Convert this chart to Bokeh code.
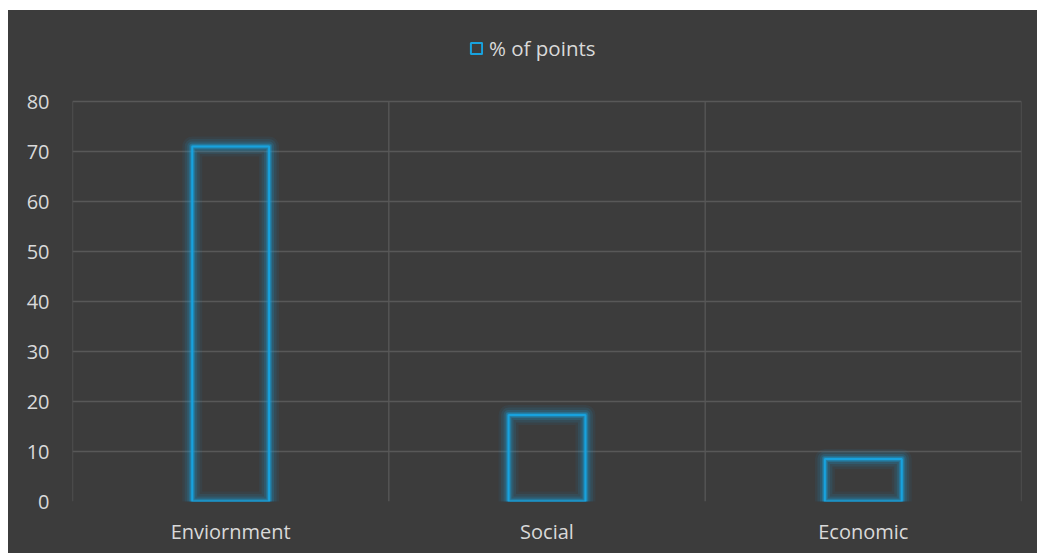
from bokeh.plotting import figure
from bokeh.models import FixedTicker, Legend, LegendItem, Range1d, ColumnDataSource
from bokeh.embed import file_html
from bokeh.resources import INLINE

categories = ["Enviornment", "Social", "Economic"]
values = [71, 17.3, 8.5]
y_ticks = [0, 10, 20, 30, 40, 50, 60, 70, 80]
series_name = "% of points"

BG = "#3c3c3c"
GRID = "#585858"
TEXT = "#d9d9d9"
BLUE = "#18a2de"
FONT = "Open Sans"

W, H = 1029, 543
FRAME_TOP, FRAME_BOTTOM = 91, 491          # pixel rows of 80 and 0
px_per_unit = (FRAME_BOTTOM - FRAME_TOP) / (y_ticks[-1] - y_ticks[0])
y_top = y_ticks[-1] + FRAME_TOP / px_per_unit   # extend range so legend sits inside frame

xs = [i + 0.5 for i in range(len(categories))]
src = ColumnDataSource(dict(x=xs, top=values))

p = figure(width=W, height=H, margin=(10, 0, 0, 8),
           output_backend="svg", toolbar_location=None,
           x_range=Range1d(0, len(categories)), y_range=Range1d(0, y_top),
           min_border_left=64, min_border_right=16, min_border_top=0,
           min_border_bottom=H - FRAME_BOTTOM)
p.styles = {"background-color": BG}
p.title.visible = False
p.background_fill_color = None
p.border_fill_color = BG
p.outline_line_color = None

# vertical category-boundary grid lines (0..80 only)
bounds = list(range(len(categories) + 1))
p.segment(x0=bounds, y0=[y_ticks[0]] * len(bounds), x1=bounds, y1=[y_ticks[-1]] * len(bounds),
          line_color=GRID, line_width=1.3)
p.xgrid.visible = False
p.ygrid.ticker = FixedTicker(ticks=y_ticks)
p.ygrid.grid_line_color = GRID
p.ygrid.grid_line_width = 1.3

bw = 0.243
for lw, a in [(20, 0.07), (15, 0.11), (10, 0.17), (6, 0.28), (4, 0.35)]:
    p.vbar(x="x", top="top", width=bw, source=src, fill_color=None,
           line_color=BLUE, line_width=lw, line_alpha=a, line_join="round")
main = p.vbar(x="x", top="top", width=bw, source=src, fill_color=None,
              line_color=BLUE, line_width=2)

p.xaxis.ticker = FixedTicker(ticks=xs)
p.xaxis.major_label_overrides = {x: c for x, c in zip(xs, categories)}
p.yaxis.ticker = FixedTicker(ticks=y_ticks)
for ax in (p.xaxis, p.yaxis):
    ax.axis_line_color = None
    ax.major_tick_line_color = None
    ax.minor_tick_line_color = None
    ax.major_tick_out = 0
    ax.major_tick_in = 0
    ax.major_label_text_color = TEXT
    ax.major_label_text_font = FONT
    ax.major_label_text_font_size = "20px"
p.yaxis.major_label_standoff = 23
p.xaxis.major_label_standoff = 16

legend = Legend(items=[LegendItem(label=series_name, renderers=[main])],
                location=(397, 439), orientation="horizontal",
                background_fill_alpha=0, border_line_color=None,
                label_text_color=TEXT, label_text_font=FONT, label_text_font_size="20.5px",
                glyph_width=14, glyph_height=14, label_height=14, padding=0, margin=0,
                label_standoff=6, spacing=0)
p.add_layout(legend)

open("out.html", "w").write(file_html(p, INLINE))
